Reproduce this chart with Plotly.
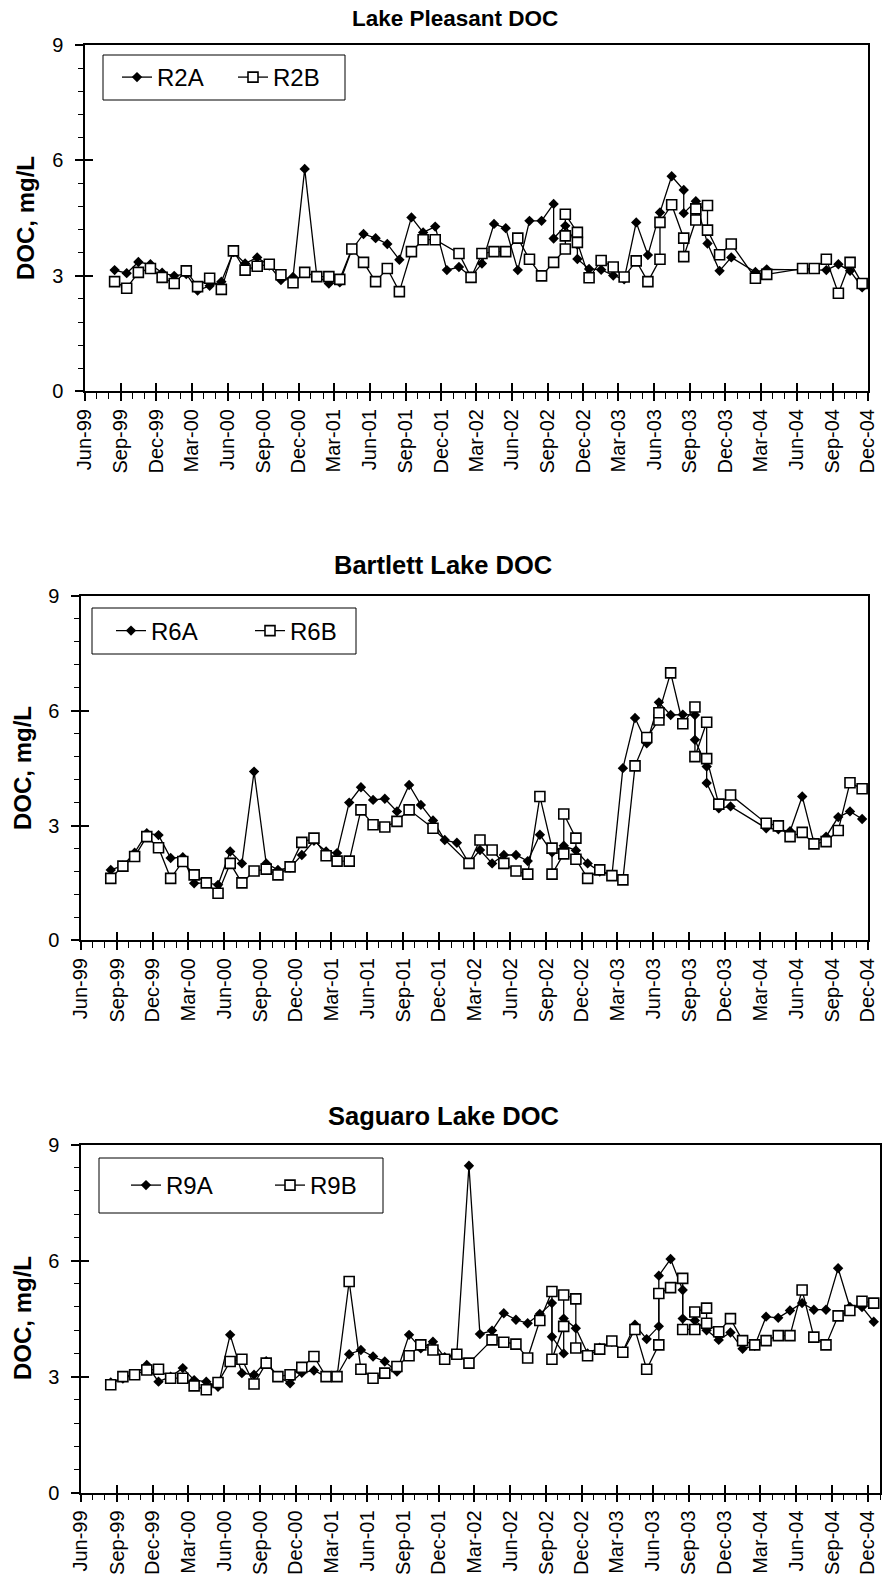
import plotly.graph_objects as go

FONT = "Arial, Liberation Sans, sans-serif"
W, H = 885, 1591

# ---------------- Lake Pleasant ----------------
r2a_month = ["1999-08", "1999-09", "1999-10", "1999-11", "1999-12", "2000-01", "2000-02", "2000-03",
             "2000-04", "2000-05", "2000-06", "2000-07", "2000-08", "2000-09", "2000-10", "2000-11",
             "2000-12", "2001-01", "2001-02", "2001-03", "2001-04", "2001-05", "2001-06", "2001-07",
             "2001-08", "2001-09", "2001-10", "2001-11", "2001-12", "2002-01", "2002-02", "2002-03",
             "2002-04", "2002-05", "2002-06", "2002-07", "2002-08", "2002-09", "2002-09", "2002-10",
             "2002-11", "2002-11", "2002-12", "2003-01", "2003-02", "2003-03", "2003-04", "2003-05",
             "2003-06", "2003-07", "2003-08", "2003-08", "2003-09", "2003-10", "2003-11", "2003-12",
             "2004-02", "2004-03", "2004-08", "2004-09", "2004-10", "2004-11"]
r2a_doc = [3.15, 3.07, 3.36, 3.30, 3.08, 3.00, 3.05, 2.62,
           2.74, 2.85, 3.62, 3.32, 3.48, 3.27, 2.89, 2.97,
           5.78, 3.00, 2.80, 2.83, 3.68, 4.09, 3.98, 3.83,
           3.42, 4.52, 4.13, 4.28, 3.15, 3.23, 2.98, 3.32,
           4.35, 4.24, 3.15, 4.43, 4.43, 4.87, 3.97, 4.30,
           3.81, 3.44, 3.18, 3.16, 3.01, 2.91, 4.39, 3.54,
           4.65, 5.59, 5.23, 4.63, 4.94, 3.84, 3.13, 3.48,
           3.10, 3.17, 3.15, 3.30, 3.13, 2.70]

r2b_month = ["1999-08", "1999-09", "1999-10", "1999-11", "1999-12", "2000-01", "2000-02", "2000-03",
             "2000-04", "2000-05", "2000-06", "2000-07", "2000-08", "2000-09", "2000-10", "2000-11",
             "2000-12", "2001-01", "2001-02", "2001-03", "2001-04", "2001-05", "2001-06", "2001-07",
             "2001-08", "2001-09", "2001-10", "2001-11", "2002-01", "2002-02", "2002-03", "2002-04",
             "2002-05", "2002-06", "2002-07", "2002-08", "2002-09", "2002-10", "2002-10", "2002-10",
             "2002-11", "2002-11", "2002-12", "2003-01", "2003-02", "2003-03", "2003-04", "2003-05",
             "2003-06", "2003-06", "2003-07", "2003-08", "2003-08", "2003-09", "2003-09", "2003-10",
             "2003-10", "2003-11", "2003-12", "2004-02", "2004-03", "2004-06", "2004-07", "2004-08",
             "2004-09", "2004-10", "2004-11"]
r2b_doc = [2.85, 2.68, 3.09, 3.19, 2.96, 2.80, 3.13, 2.72,
           2.94, 2.65, 3.65, 3.15, 3.25, 3.30, 3.03, 2.82,
           3.09, 2.98, 2.98, 2.91, 3.70, 3.35, 2.85, 3.19,
           2.59, 3.63, 3.94, 3.94, 3.58, 2.96, 3.58, 3.63,
           3.63, 3.98, 3.43, 3.00, 3.35, 3.70, 4.04, 4.60,
           4.13, 3.87, 2.95, 3.40, 3.23, 2.97, 3.39, 2.85,
           3.43, 4.39, 4.85, 3.98, 3.50, 4.45, 4.74, 4.83,
           4.19, 3.55, 3.83, 2.94, 3.04, 3.19, 3.19, 3.43,
           2.55, 3.35, 2.80]

# ---------------- Bartlett Lake ----------------
r6a_month = ["1999-08", "1999-09", "1999-10", "1999-11", "1999-12", "2000-01", "2000-02", "2000-03",
             "2000-04", "2000-05", "2000-06", "2000-07", "2000-08", "2000-09", "2000-10", "2000-11",
             "2000-12", "2001-01", "2001-02", "2001-03", "2001-04", "2001-05", "2001-06", "2001-07",
             "2001-08", "2001-09", "2001-10", "2001-11", "2001-12", "2002-01", "2002-02", "2002-03",
             "2002-04", "2002-05", "2002-06", "2002-07", "2002-08", "2002-09", "2002-10", "2002-11",
             "2002-12", "2003-01", "2003-02", "2003-03", "2003-04", "2003-05", "2003-06", "2003-07",
             "2003-08", "2003-09", "2003-09", "2003-10", "2003-10", "2003-11", "2003-12", "2004-03",
             "2004-04", "2004-05", "2004-06", "2004-07", "2004-08", "2004-09", "2004-10", "2004-11"]
r6a_doc = [1.84, 1.95, 2.29, 2.80, 2.75, 2.15, 2.17, 1.49,
           1.50, 1.45, 2.32, 2.01, 4.41, 2.01, 1.84, 1.90,
           2.23, 2.60, 2.32, 2.28, 3.60, 4.00, 3.67, 3.70,
           3.37, 4.06, 3.54, 3.13, 2.62, 2.55, 2.01, 2.36,
           2.01, 2.23, 2.23, 2.07, 2.76, 2.30, 2.47, 2.35,
           2.01, 1.80, 1.70, 4.50, 5.81, 5.15, 6.22, 5.89,
           5.90, 5.89, 5.24, 4.54, 4.11, 3.45, 3.50, 2.93,
           2.90, 2.85, 3.76, 2.55, 2.71, 3.22, 3.37, 3.17]

r6b_month = ["1999-08", "1999-09", "1999-10", "1999-11", "1999-12", "2000-01", "2000-02", "2000-03",
             "2000-04", "2000-05", "2000-06", "2000-07", "2000-08", "2000-09", "2000-10", "2000-11",
             "2000-12", "2001-01", "2001-02", "2001-03", "2001-04", "2001-05", "2001-06", "2001-07",
             "2001-08", "2001-09", "2001-11", "2002-02", "2002-03", "2002-04", "2002-05", "2002-06",
             "2002-07", "2002-08", "2002-09", "2002-09", "2002-10", "2002-10", "2002-11", "2002-11",
             "2002-12", "2003-01", "2003-02", "2003-03", "2003-04", "2003-05", "2003-06", "2003-06",
             "2003-07", "2003-08", "2003-09", "2003-09", "2003-10", "2003-10", "2003-11", "2003-12",
             "2004-03", "2004-04", "2004-05", "2004-06", "2004-07", "2004-08", "2004-09", "2004-10",
             "2004-11"]
r6b_doc = [1.62, 1.94, 2.19, 2.71, 2.42, 1.62, 2.06, 1.71,
           1.50, 1.23, 2.01, 1.50, 1.81, 1.86, 1.71, 1.92,
           2.56, 2.67, 2.21, 2.07, 2.07, 3.41, 3.02, 2.96,
           3.11, 3.41, 2.93, 2.01, 2.62, 2.36, 2.01, 1.81,
           1.73, 3.76, 2.41, 1.73, 2.26, 3.30, 2.67, 2.12,
           1.62, 1.84, 1.69, 1.58, 4.56, 5.30, 5.76, 5.95,
           6.99, 5.66, 6.10, 4.80, 5.70, 4.75, 3.56, 3.80,
           3.06, 2.99, 2.71, 2.82, 2.52, 2.58, 2.87, 4.12,
           3.96]

# ---------------- Saguaro Lake ----------------
r9a_month = ["1999-08", "1999-09", "1999-10", "1999-11", "1999-12", "2000-01", "2000-02", "2000-03",
             "2000-04", "2000-05", "2000-06", "2000-07", "2000-08", "2000-09", "2000-10", "2000-11",
             "2000-12", "2001-01", "2001-02", "2001-03", "2001-04", "2001-05", "2001-06", "2001-07",
             "2001-08", "2001-09", "2001-10", "2001-11", "2001-12", "2002-01", "2002-02", "2002-03",
             "2002-04", "2002-05", "2002-06", "2002-07", "2002-08", "2002-09", "2002-09", "2002-10",
             "2002-10", "2002-11", "2002-12", "2003-01", "2003-02", "2003-03", "2003-04", "2003-05",
             "2003-06", "2003-06", "2003-07", "2003-08", "2003-08", "2003-09", "2003-10", "2003-11",
             "2003-12", "2004-01", "2004-02", "2004-03", "2004-04", "2004-05", "2004-06", "2004-07",
             "2004-08", "2004-09", "2004-10", "2004-11", "2004-12"]
r9a_doc = [2.85, 2.95, 3.05, 3.30, 2.87, 3.00, 3.22, 2.91,
           2.87, 2.74, 4.08, 3.09, 3.05, 3.40, 3.00, 2.83,
           3.10, 3.16, 3.00, 3.03, 3.58, 3.69, 3.52, 3.39,
           3.13, 4.08, 3.73, 3.90, 3.50, 3.60, 8.45, 4.10,
           4.19, 4.64, 4.47, 4.38, 4.62, 4.90, 4.03, 3.60,
           4.50, 4.25, 3.60, 3.75, 3.90, 3.65, 4.34, 3.97,
           4.30, 5.61, 6.04, 5.24, 4.50, 4.45, 4.20, 3.95,
           4.14, 3.72, 3.80, 4.55, 4.52, 4.71, 4.90, 4.73,
           4.73, 5.80, 4.80, 4.80, 4.42]

r9b_month = ["1999-08", "1999-09", "1999-10", "1999-11", "1999-12", "2000-01", "2000-02", "2000-03",
             "2000-04", "2000-05", "2000-06", "2000-07", "2000-08", "2000-09", "2000-10", "2000-11",
             "2000-12", "2001-01", "2001-02", "2001-03", "2001-04", "2001-05", "2001-06", "2001-07",
             "2001-08", "2001-09", "2001-10", "2001-11", "2001-12", "2002-01", "2002-02", "2002-04",
             "2002-05", "2002-06", "2002-07", "2002-08", "2002-09", "2002-09", "2002-10", "2002-10",
             "2002-11", "2002-11", "2002-12", "2003-01", "2003-02", "2003-03", "2003-04", "2003-05",
             "2003-06", "2003-06", "2003-07", "2003-08", "2003-08", "2003-09", "2003-09", "2003-10",
             "2003-10", "2003-11", "2003-12", "2004-01", "2004-02", "2004-03", "2004-04", "2004-05",
             "2004-06", "2004-07", "2004-08", "2004-09", "2004-10", "2004-11", "2004-12"]
r9b_doc = [2.79, 3.00, 3.05, 3.17, 3.19, 2.96, 2.96, 2.76,
           2.66, 2.85, 3.39, 3.45, 2.81, 3.35, 3.00, 3.05,
           3.24, 3.52, 3.00, 3.00, 5.46, 3.19, 2.96, 3.09,
           3.26, 3.54, 3.82, 3.69, 3.45, 3.58, 3.35, 3.95,
           3.89, 3.84, 3.48, 4.45, 5.20, 3.45, 4.30, 5.11,
           5.01, 3.74, 3.54, 3.71, 3.92, 3.63, 4.22, 3.19,
           3.82, 5.15, 5.30, 5.54, 4.22, 4.22, 4.67, 4.77,
           4.38, 4.16, 4.50, 3.93, 3.82, 3.93, 4.06, 4.06,
           5.24, 4.02, 3.82, 4.57, 4.71, 4.95, 4.90]

panels = [
    dict(title="Lake Pleasant DOC", names=("R2A", "R2B"),
         a=(r2a_month, r2a_doc), b=(r2b_month, r2b_doc),
         box=(85, 45, 868, 391.3), x_end="2004-12-01",
         title_xy=(455, 19), title_size=22.5, ytitle_xy=(25, 218),
         legend_box=(103, 55, 345, 100), legend_x=117, entrywidth=71),
    dict(title="Bartlett Lake DOC", names=("R6A", "R6B"),
         a=(r6a_month, r6a_doc), b=(r6b_month, r6b_doc),
         box=(81, 596, 868, 940.3), x_end="2004-12-01",
         title_xy=(443, 565), title_size=25.5, ytitle_xy=(22, 768),
         legend_box=(92, 608, 356, 654), legend_x=111, entrywidth=94),
    dict(title="Saguaro Lake DOC", names=("R9A", "R9B"),
         a=(r9a_month, r9a_doc), b=(r9b_month, r9b_doc),
         box=(81, 1144.5, 880, 1492.7), x_end="2005-01-01",
         title_xy=(443, 1116), title_size=25.5, ytitle_xy=(22, 1318),
         legend_box=(99, 1158, 383, 1213), legend_x=126, entrywidth=99),
]


def mid_month(months):
    # samples are placed in the middle of their month slot
    return [m + "-16" for m in months]


def px(x):
    return x / W


def py(y):
    return 1 - y / H


fig = go.Figure()
layout = dict(template="none", width=W, height=H, margin=dict(l=0, r=0, t=0, b=0),
              paper_bgcolor="white", plot_bgcolor="white", hovermode=False,
              font=dict(family=FONT, color="black"), annotations=[], shapes=[])

line_style = dict(color="black", width=1.3)
for i, p in enumerate(panels):
    n = i + 1
    xa, ya = f"x{n if n > 1 else ''}", f"y{n if n > 1 else ''}"
    xo, yo = f"x{n + 3}", f"y{n + 3}"
    leg = "legend" if n == 1 else f"legend{n}"
    x0, y0, x1, y1 = p["box"]

    fig.add_trace(go.Scatter(
        x=mid_month(p["a"][0]), y=p["a"][1], name=p["names"][0], mode="lines+markers",
        line=line_style, marker=dict(symbol="diamond", size=8, color="black", line=dict(width=0)),
        xaxis=xa, yaxis=ya, legend=leg))
    fig.add_trace(go.Scatter(
        x=mid_month(p["b"][0]), y=p["b"][1], name=p["names"][1], mode="lines+markers",
        line=line_style, marker=dict(symbol="square", size=10, color="white",
                                     line=dict(width=1.6, color="black")),
        xaxis=xa, yaxis=ya, legend=leg))
    # empty trace that carries the inner half of the crossing major ticks
    fig.add_trace(go.Scatter(x=[], y=[], xaxis=xo, yaxis=yo, showlegend=False))

    xrange = ["1999-06-01", p["x_end"]]
    common = dict(showgrid=False, zeroline=False, automargin=False, fixedrange=True)
    layout[f"xaxis{n if n > 1 else ''}"] = dict(
        domain=[px(x0), px(x1)], anchor=ya, type="date", range=xrange,
        tick0="1999-06-01", dtick="M3", tickformat="%b-%y", tickangle=-90,
        ticks="outside", ticklen=8, tickwidth=1.5, tickcolor="black",
        minor=dict(tick0="1999-06-01", dtick="M1", ticks="outside", ticklen=6,
                   tickwidth=1.2, tickcolor="black", showgrid=False),
        showline=True, linecolor="black", linewidth=1.5, mirror=True,
        ticklabelstandoff=0, tickfont=dict(family=FONT, size=20, color="black"), **common)
    layout[f"yaxis{n if n > 1 else ''}"] = dict(
        domain=[py(y1), py(y0)], anchor=xa, range=[0, 9], tick0=0, dtick=3,
        ticks="outside", ticklen=8, tickwidth=1.5, tickcolor="black",
        minor=dict(tick0=0, dtick=0.6, ticks="outside", ticklen=5, tickwidth=1.2,
                   tickcolor="black", showgrid=False),
        showline=True, linecolor="black", linewidth=1.5, mirror=True,
        ticklabelstandoff=8, tickfont=dict(family=FONT, size=20, color="black"), **common)
    layout[f"xaxis{n + 3}"] = dict(
        overlaying=xa, anchor=yo, type="date", range=xrange, tick0="1999-06-01", dtick="M3",
        ticks="inside", ticklen=8, tickwidth=1.5, tickcolor="black", showticklabels=False,
        showline=False, **common)
    layout[f"yaxis{n + 3}"] = dict(
        overlaying=ya, anchor=xo, range=[0, 9], tick0=0, dtick=3,
        ticks="inside", ticklen=8, tickwidth=1.5, tickcolor="black", showticklabels=False,
        showline=False, **common)

    # chart title and y-axis title
    tx, ty = p["title_xy"]
    layout["annotations"].append(dict(
        text=f"<b>{p['title']}</b>", x=px(tx), y=py(ty), xref="paper", yref="paper",
        xanchor="center", yanchor="middle", showarrow=False,
        font=dict(family=FONT, size=p["title_size"], color="black")))
    ax, ay = p["ytitle_xy"]
    layout["annotations"].append(dict(
        text="<b>DOC, mg/L</b>", x=px(ax), y=py(ay), xref="paper", yref="paper",
        xanchor="center", yanchor="middle", textangle=-90, showarrow=False,
        font=dict(family=FONT, size=24, color="black")))

    # legend frame
    lx0, ly0, lx1, ly1 = p["legend_box"]
    layout["shapes"].append(dict(
        type="rect", xref="paper", yref="paper", x0=px(lx0), x1=px(lx1), y0=py(ly1), y1=py(ly0),
        line=dict(color="black", width=1), fillcolor="white", layer="below"))
    layout[leg] = dict(
        x=px(p["legend_x"]), y=py((ly0 + ly1) / 2), xanchor="left", yanchor="middle",
        orientation="h", bgcolor="rgba(0,0,0,0)", borderwidth=0,
        entrywidth=p["entrywidth"], entrywidthmode="pixels", itemwidth=30,
        font=dict(family=FONT, size=24, color="black"))

fig.update_layout(**layout)
fig.write_html("out.html")
